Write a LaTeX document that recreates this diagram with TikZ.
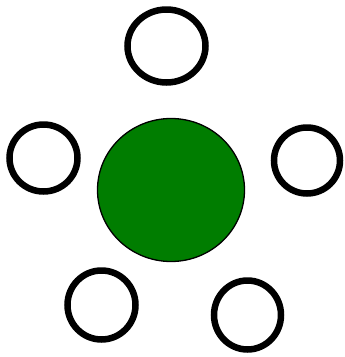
\documentclass[tikz,border=0pt]{standalone}
\usetikzlibrary{shapes.geometric}
\definecolor{leafgreen}{RGB}{0,125,0}
\begin{document}
\begin{tikzpicture}[x=1pt,y=-1pt,
  ring/.style={ellipse,draw=black,line width=6.5pt,inner sep=0pt,fill=none},
  hub/.style={ellipse,draw=black,line width=1.3pt,fill=leafgreen,inner sep=0pt}]
\useasboundingbox (0,0) rectangle (345,357);
\node[hub,minimum width=147pt,minimum height=143pt] (c) at (171,190) {};
\node[ring,minimum width=78pt,minimum height=73pt] (t) at (166.5,46) {};
\node[ring,minimum width=68pt,minimum height=67pt] (l) at (43.5,158) {};
\node[ring,minimum width=66pt,minimum height=66pt] (r) at (307,160.5) {};
\node[ring,minimum width=68pt,minimum height=69pt] (bl) at (101.5,305) {};
\node[ring,minimum width=67pt,minimum height=69pt] (br) at (247.5,315) {};
\end{tikzpicture}
\end{document}
